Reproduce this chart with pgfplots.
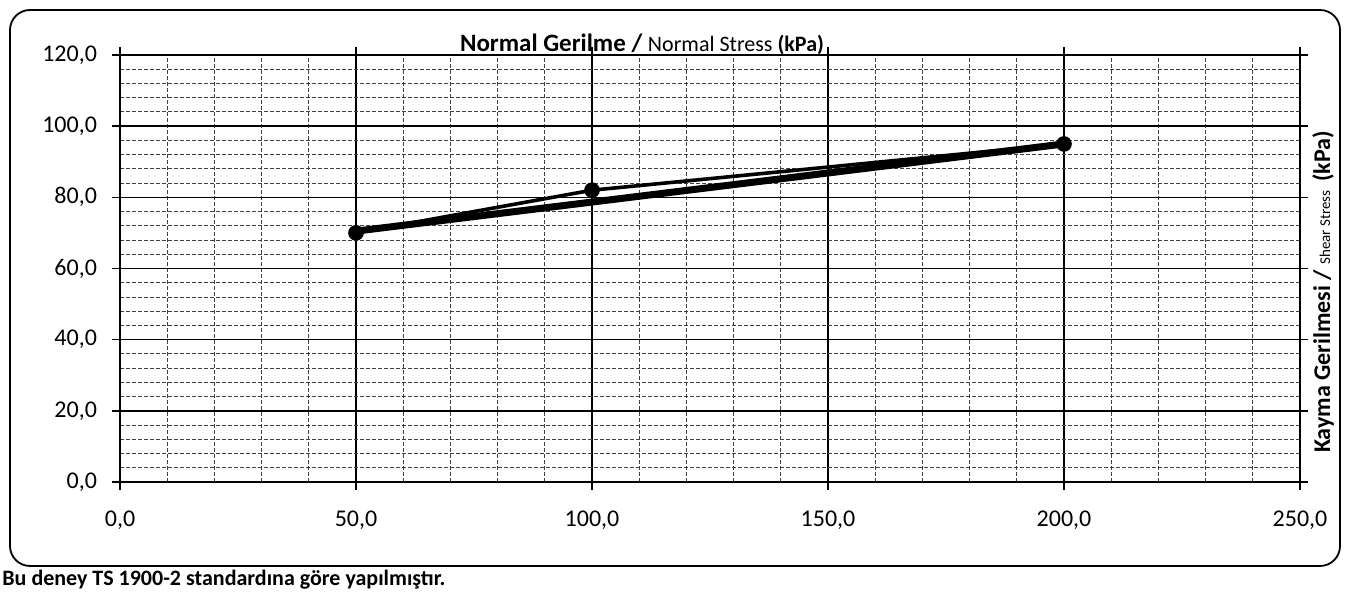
\documentclass[border=0pt]{standalone}
\usepackage{pgfplots}
\pgfplotsset{compat=1.18}
\usepackage{fontspec}
\setmainfont{Carlito}
\begin{document}
\begin{tikzpicture}[x=1pt,y=1pt]
\useasboundingbox (0,0) rectangle (675,296);
\draw[line width=0.9pt, rounded corners=10pt] (5,13) rectangle (670,291);
\begin{axis}[
 at={(60pt,55pt)}, anchor=south west,
 scale only axis, width=590pt, height=213.5pt,
 xmin=0,xmax=250,ymin=0,ymax=120,
 xtick={0,50,...,250}, ytick={0,20,...,120},
 minor x tick num=4, minor y tick num=4,
 grid=both,
 major grid style={black, line width=0.7pt},
 minor grid style={black!75, line width=0.45pt, dash pattern=on 2pt off 1pt},
 axis line style={black, line width=0.9pt},
 tick align=outside, major tick length=4pt, minor tick length=0pt,
 tick style={black, line width=0.7pt},
 xticklabel style={font=\fontsize{12}{14}\selectfont, yshift=-7pt},
 yticklabel style={font=\fontsize{12}{14}\selectfont, xshift=-4pt},
 /pgf/number format/.cd, fixed, fixed zerofill, precision=1, use comma, 1000 sep={}, assume math mode=true,
]
\addplot[black, line width=3.5pt] coordinates {(50,70.5) (200,95)};
\addplot[black, line width=1.8pt, mark=*, mark size=3pt] coordinates {(50,70) (100,82) (200,95)};
\end{axis}
\node[anchor=base, inner sep=0pt] at (321,270) {\fontsize{12.5}{14}\selectfont\bfseries Normal Gerilme / \mdseries\fontsize{11}{13}\selectfont Normal Stress \bfseries(kPa)};
\node[anchor=base, rotate=90, inner sep=0pt] at (665,150) {\fontsize{12}{14}\selectfont\bfseries Kayma Gerilmesi / \mdseries\fontsize{7.5}{9}\selectfont Shear Stress \fontsize{12}{14}\selectfont\bfseries ~(kPa)};
\node[anchor=base west, inner sep=0pt, font=\bfseries\fontsize{11}{13}\selectfont] at (1,3.2) {Bu deney TS 1900-2 standardına göre yapılmıştır.};
\end{tikzpicture}
\end{document}
